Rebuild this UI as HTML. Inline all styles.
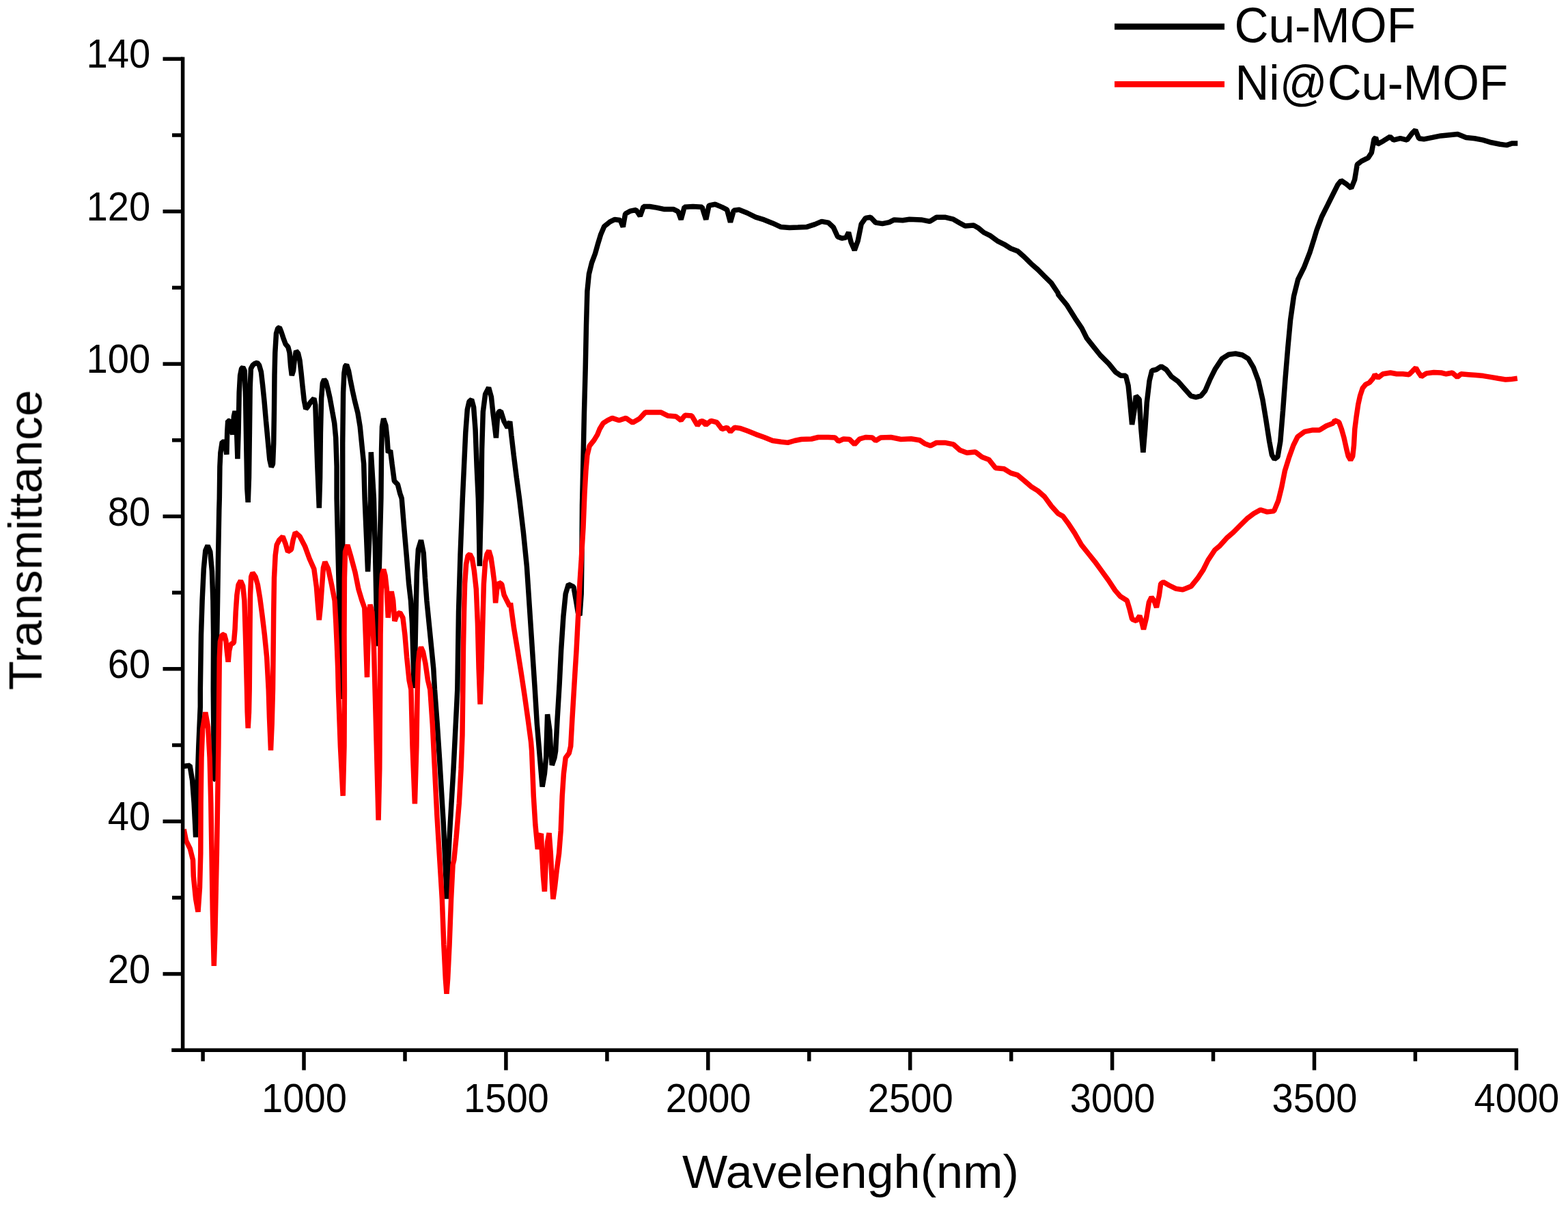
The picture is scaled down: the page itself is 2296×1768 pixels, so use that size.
<!DOCTYPE html>
<html lang="en"><head><meta charset="utf-8"><title>FTIR spectra</title>
<style>
html,body{margin:0;padding:0;background:#fff;}
body{width:2296px;height:1768px;overflow:hidden;}
svg{display:block;}
text{font-family:"Liberation Sans",Arial,Helvetica,sans-serif;fill:#000;}
.tick{font-size:57px;}
.title{font-size:69px;}
.leg{font-size:69px;}
</style></head><body>
<svg width="2296" height="1768" viewBox="0 0 2296 1768">
<rect width="2296" height="1768" fill="#fff"/>
<g style="filter:blur(0.5px)">

<g fill="none" stroke-linejoin="bevel" stroke-linecap="butt">
<path d="M268.3 1122.5 L278.0 1121.2 L281.6 1143.2 L284.1 1176.5 L285.8 1209.8 L286.6 1226.4 L288.6 1159.8 L290.8 1093.2 L293.3 1035.0 L293.3 1010.0 L294.5 929.8 L296.1 879.8 L298.3 833.2 L300.8 806.6 L304.1 799.1 L307.8 808.2 L310.4 836.5 L311.9 879.8 L312.6 929.8 L312.4 979.7 L312.3 1010.0 L312.9 1076.6 L313.3 1141.5 L314.3 1141.5 L315.8 1076.6 L316.6 1010.0 L317.4 946.4 L318.6 879.8 L319.6 813.2 L320.8 746.6 L321.3 730.0 L321.9 683.1 L322.9 663.1 L325.3 647.3 L329.1 647.3 L331.9 665.6 L332.7 633.1 L333.7 616.5 L336.2 616.5 L340.7 636.4 L342.4 609.8 L344.1 602.3 L345.7 608.1 L346.9 641.4 L347.9 672.2 L349.1 633.1 L350.2 574.9 L351.6 549.9 L353.6 539.9 L355.7 537.9 L358.2 543.2 L359.6 583.2 L360.7 649.8 L361.9 716.4 L363.2 735.8 L364.5 699.7 L365.4 633.1 L366.2 566.5 L367.4 539.9 L369.9 535.2 L373.2 532.4 L376.5 531.2 L379.5 534.9 L382.4 544.9 L384.5 563.2 L386.9 586.5 L389.5 616.5 L392.3 646.4 L394.8 673.1 L397.3 683.9 L399.5 679.7 L400.7 649.8 L401.5 599.8 L402.0 549.9 L402.8 516.6 L404.5 488.3 L406.8 480.8 L409.3 479.6 L411.8 485.8 L414.8 494.9 L418.1 504.1 L421.8 508.3 L424.0 516.6 L425.6 536.6 L427.3 549.9 L429.5 543.2 L431.5 524.9 L433.5 514.1 L436.5 517.4 L439.0 528.2 L441.1 546.6 L443.1 566.5 L445.3 586.5 L447.8 599.0 L450.6 595.7 L454.8 589.0 L459.8 583.5 L461.8 593.2 L463.1 633.1 L464.8 683.1 L467.3 744.2 L468.6 699.7 L469.4 633.1 L470.6 583.2 L472.3 561.5 L474.7 555.7 L477.2 559.0 L479.7 568.2 L483.1 583.2 L486.7 603.2 L489.7 619.8 L491.7 641.4 L493.1 683.1 L493.1 730.0 L495.1 813.2 L497.1 896.5 L499.1 979.7 L500.2 1023.8 L501.1 979.7 L501.4 896.5 L501.7 813.2 L501.7 730.0 L501.7 649.8 L502.6 574.9 L503.9 546.6 L505.5 536.6 L507.5 534.1 L510.5 543.2 L513.0 556.5 L516.4 573.2 L519.7 588.2 L523.9 604.8 L527.2 624.8 L530.0 653.1 L532.7 679.7 L534.1 730.0 L536.6 788.3 L538.6 837.4 L540.8 788.3 L542.5 730.0 L543.3 662.2 L547.4 730.0 L549.6 813.2 L551.3 896.5 L552.4 946.4 L553.6 896.5 L555.8 813.2 L557.9 730.0 L558.6 658.1 L559.5 624.8 L561.6 613.1 L564.9 623.1 L566.9 641.4 L568.3 663.1 L571.6 659.8 L574.1 679.7 L577.4 704.7 L582.4 709.7 L585.8 723.0 L588.2 730.0 L591.6 771.6 L595.2 813.2 L598.6 854.9 L601.5 879.8 L603.5 913.1 L605.0 963.1 L606.4 1008.0 L607.7 963.1 L609.0 896.5 L610.4 838.2 L612.4 804.9 L616.5 791.3 L620.2 809.9 L622.4 846.5 L624.9 879.8 L628.2 913.1 L631.5 946.4 L634.8 979.7 L636.5 1010.0 L640.2 1059.9 L643.5 1109.9 L646.5 1159.8 L649.5 1209.8 L651.8 1259.7 L653.2 1290.0 L654.0 1316.6 L655.7 1276.4 L658.1 1226.4 L661.0 1176.5 L664.0 1126.5 L666.5 1076.6 L669.0 1026.6 L669.8 1010.0 L671.5 896.5 L674.0 813.2 L677.3 730.0 L679.5 683.1 L681.8 633.1 L684.3 599.8 L687.0 588.2 L690.6 585.2 L693.6 596.5 L696.1 629.8 L698.1 683.1 L700.3 730.0 L701.4 779.9 L702.3 829.1 L703.4 779.9 L704.8 730.0 L705.6 658.1 L707.3 603.2 L710.6 577.4 L715.6 567.7 L719.4 581.5 L721.9 604.8 L724.4 624.8 L726.4 641.4 L728.1 616.5 L730.1 603.2 L733.4 602.3 L738.1 617.3 L743.1 626.5 L746.7 617.3 L748.9 638.1 L752.2 666.4 L756.4 699.7 L760.5 730.0 L766.4 779.9 L771.4 829.9 L774.7 879.8 L778.0 929.8 L781.3 979.7 L783.3 1010.0 L786.3 1059.9 L790.5 1109.9 L794.1 1152.4 L797.4 1133.3 L799.6 1110.0 L801.6 1046.4 L804.9 1069.7 L806.6 1100.0 L808.3 1120.8 L811.9 1110.0 L813.6 1100.0 L816.1 1053.1 L819.1 1003.1 L821.6 953.2 L824.9 903.2 L828.2 869.9 L832.4 855.8 L839.9 859.6 L843.2 878.3 L846.5 898.2 L849.0 901.6 L851.2 869.9 L851.9 820.0 L852.5 739.8 L854.0 673.2 L855.4 606.6 L857.2 540.0 L858.5 476.4 L859.9 426.5 L862.4 401.5 L866.5 384.9 L871.5 371.5 L875.7 356.6 L879.8 343.2 L884.8 331.6 L893.2 324.9 L899.8 321.6 L908.1 322.4 L912.3 332.4 L915.6 313.3 L923.1 309.1 L931.4 307.4 L937.3 316.6 L942.3 302.5 L951.4 302.5 L961.4 304.1 L973.1 306.6 L986.4 306.6 L993.0 309.9 L997.2 321.6 L1002.2 303.3 L1014.7 302.5 L1028.0 303.3 L1033.8 321.6 L1038.0 301.6 L1038.6 300.9 L1047.2 299.2 L1057.1 303.4 L1064.5 307.1 L1069.5 325.6 L1074.4 308.3 L1081.8 307.1 L1094.2 312.0 L1106.6 318.2 L1118.9 321.9 L1131.3 326.9 L1143.7 332.6 L1156.1 333.5 L1168.4 333.1 L1180.8 332.6 L1193.2 328.6 L1203.1 324.4 L1212.9 326.1 L1220.4 333.1 L1226.6 346.7 L1232.7 349.1 L1238.9 347.9 L1242.6 340.5 L1246.3 355.3 L1251.3 366.4 L1256.2 352.8 L1261.2 328.1 L1267.4 319.4 L1274.8 318.2 L1282.2 326.1 L1292.1 327.6 L1302.0 325.6 L1309.4 321.9 L1321.8 322.7 L1331.7 321.2 L1349.0 321.9 L1361.4 324.4 L1371.3 318.2 L1383.6 318.2 L1396.0 321.2 L1405.9 326.9 L1413.3 331.1 L1425.7 330.1 L1433.1 334.3 L1440.5 340.5 L1450.4 345.4 L1460.3 352.8 L1470.2 357.8 L1480.1 364.0 L1490.0 367.7 L1499.9 376.3 L1509.8 386.2 L1519.7 394.9 L1529.6 404.8 L1539.5 414.7 L1549.4 429.5 L1549.5 431.4 L1561.8 446.3 L1574.2 466.1 L1584.1 480.9 L1591.5 495.7 L1601.4 508.1 L1611.3 520.5 L1623.7 532.8 L1633.6 545.2 L1641.0 550.2 L1648.4 550.2 L1652.1 565.0 L1654.6 589.7 L1657.6 621.9 L1660.8 602.1 L1663.3 579.8 L1668.2 584.8 L1670.7 626.8 L1673.9 662.7 L1676.9 626.8 L1679.3 589.7 L1683.1 557.6 L1686.8 542.7 L1692.9 541.5 L1700.4 536.6 L1707.8 541.5 L1715.2 551.4 L1725.1 558.8 L1735.0 569.9 L1743.7 579.8 L1751.1 581.8 L1758.5 579.8 L1764.7 572.4 L1772.1 555.1 L1779.5 540.3 L1789.4 525.4 L1799.3 519.2 L1809.2 518.0 L1819.1 520.0 L1827.8 525.4 L1835.2 537.8 L1842.6 557.6 L1848.8 584.8 L1853.7 614.5 L1858.7 646.6 L1862.4 666.4 L1866.1 672.6 L1871.0 668.9 L1874.8 646.6 L1878.5 602.1 L1882.2 552.6 L1885.9 508.1 L1889.6 468.5 L1894.5 433.9 L1900.7 409.2 L1909.4 391.8 L1918.0 369.6 L1924.2 349.8 L1927.9 337.5 L1935.3 317.7 L1944.0 300.4 L1951.4 285.5 L1958.8 270.7 L1963.8 264.5 L1971.2 269.4 L1978.6 275.6 L1983.6 263.3 L1987.3 241.0 L1993.5 236.1 L2003.4 231.1 L2008.3 223.7 L2012.0 203.9 L2014.5 201.4 L2017.0 211.3 L2025.6 206.4 L2035.5 200.2 L2040.5 205.1 L2050.4 202.7 L2060.3 205.1 L2067.7 195.2 L2072.6 190.3 L2077.6 202.7 L2085.0 203.9 L2097.4 201.4 L2109.7 198.9 L2122.1 197.7 L2134.5 196.5 L2146.8 201.4 L2159.2 202.7 L2171.6 205.1 L2183.9 208.8 L2196.3 211.3 L2206.2 212.6 L2213.6 210.1 L2222.3 210.1" stroke="#000" stroke-width="7.5"/>
<path d="M269.2 1214.8 L272.5 1231.4 L278.3 1243.1 L282.5 1259.7 L283.3 1283.3 L286.6 1316.6 L290.0 1335.7 L292.5 1299.9 L293.8 1250.0 L294.1 1176.5 L295.0 1109.9 L296.6 1068.3 L300.8 1043.3 L304.6 1064.9 L307.1 1109.9 L308.8 1176.5 L309.9 1243.1 L311.3 1333.2 L313.3 1414.8 L314.9 1366.5 L316.3 1299.9 L317.4 1250.0 L318.6 1176.5 L319.9 1093.2 L320.8 1010.0 L321.3 963.1 L322.4 939.8 L324.9 930.6 L328.3 928.9 L330.8 938.1 L332.4 954.7 L334.1 969.7 L335.7 953.1 L337.9 943.9 L342.4 941.4 L344.1 921.4 L345.2 896.5 L346.9 871.5 L349.1 856.5 L352.4 850.7 L355.7 858.2 L357.9 879.8 L359.9 946.4 L361.5 1010.0 L362.2 1043.3 L363.2 1066.6 L364.5 1043.3 L365.2 1010.0 L365.9 929.8 L366.5 871.5 L367.7 844.9 L369.9 839.0 L374.0 844.9 L377.4 856.5 L380.7 876.5 L384.0 901.5 L387.4 929.8 L390.7 963.1 L393.2 1010.0 L394.5 1051.6 L396.5 1099.1 L398.2 1059.9 L399.5 1010.0 L400.2 946.4 L400.7 896.5 L401.5 846.5 L403.2 813.2 L405.2 798.3 L409.0 790.8 L414.0 785.8 L418.1 796.6 L421.5 808.2 L426.5 804.9 L429.0 791.6 L432.3 779.9 L439.0 785.8 L446.4 799.9 L453.1 818.2 L459.8 833.2 L463.4 859.8 L465.6 888.1 L467.3 908.1 L469.4 888.1 L471.4 859.8 L473.4 831.5 L475.9 823.2 L480.6 833.2 L485.6 856.5 L490.1 879.8 L491.9 913.1 L493.4 946.4 L494.7 979.7 L495.4 1010.0 L498.4 1093.2 L502.2 1165.7 L504.0 1093.2 L504.4 1010.0 L504.0 929.8 L504.4 846.5 L505.5 808.2 L508.9 798.3 L513.3 813.2 L520.0 838.2 L525.0 863.2 L530.0 879.8 L533.8 890.6 L535.3 929.8 L537.5 992.2 L539.1 929.8 L540.5 896.5 L542.0 885.7 L544.9 896.5 L547.4 946.4 L549.1 1010.0 L551.3 1093.2 L554.1 1201.4 L555.8 1126.5 L556.6 1010.0 L557.1 929.8 L558.3 863.2 L559.6 841.5 L561.6 834.0 L564.1 843.2 L566.3 863.2 L568.3 904.8 L570.8 879.8 L573.2 866.5 L575.7 879.8 L577.9 909.8 L581.6 899.8 L585.7 897.3 L589.9 904.8 L592.9 929.8 L595.7 963.1 L599.1 996.4 L601.9 1010.0 L604.0 1093.2 L607.4 1177.3 L609.9 1093.2 L611.2 1010.0 L612.4 971.4 L614.0 954.7 L616.5 948.1 L619.5 954.7 L622.9 971.4 L626.5 996.4 L629.8 1010.0 L633.2 1059.9 L636.5 1126.5 L639.8 1193.1 L642.8 1243.1 L645.7 1290.0 L647.3 1316.6 L649.8 1383.2 L652.3 1433.1 L654.0 1455.6 L655.7 1433.1 L658.1 1383.2 L660.6 1316.6 L663.1 1266.6 L664.8 1259.7 L668.1 1226.4 L672.3 1176.5 L675.1 1126.5 L677.0 1076.6 L677.8 1010.0 L678.5 946.4 L679.5 896.5 L680.6 854.9 L682.6 826.6 L685.1 814.1 L688.1 811.6 L691.4 818.2 L694.4 836.5 L697.3 863.2 L699.4 913.1 L701.1 979.7 L703.1 1031.6 L705.1 979.7 L706.8 913.1 L708.4 854.9 L710.6 823.2 L713.1 811.6 L715.9 806.6 L718.9 816.6 L721.4 833.2 L723.9 853.2 L725.6 883.2 L727.7 863.2 L730.6 853.2 L734.7 855.7 L738.1 871.5 L742.2 879.8 L746.4 888.1 L747.5 883.3 L752.5 919.9 L758.0 953.2 L763.3 986.5 L768.3 1019.8 L773.0 1053.1 L777.5 1086.4 L778.6 1100.0 L781.3 1166.6 L783.9 1208.2 L786.3 1233.2 L787.3 1244.0 L789.9 1226.5 L792.4 1221.2 L793.6 1249.8 L795.4 1283.1 L797.4 1305.8 L799.1 1266.5 L801.6 1233.2 L804.1 1220.2 L806.3 1249.8 L808.3 1291.4 L809.9 1316.9 L812.4 1299.8 L815.2 1274.8 L818.6 1249.8 L821.2 1216.5 L823.2 1166.6 L825.4 1133.3 L828.2 1110.0 L833.2 1103.3 L835.7 1093.0 L837.9 1053.1 L839.9 1019.8 L841.9 986.5 L844.0 953.2 L845.7 919.9 L847.4 886.6 L849.0 853.3 L851.2 820.0 L854.0 773.1 L856.0 723.1 L857.9 689.8 L859.9 666.5 L863.2 653.2 L869.8 644.9 L874.8 636.6 L878.2 628.2 L883.2 619.9 L889.8 615.7 L896.5 612.4 L906.5 615.7 L916.5 612.4 L926.4 619.1 L936.4 613.2 L944.8 604.1 L956.4 604.1 L968.1 604.1 L978.1 609.1 L989.7 609.9 L997.2 615.7 L1003.0 608.3 L1013.0 609.1 L1021.3 623.2 L1026.3 616.6 L1034.7 619.9 L1027.4 616.3 L1033.6 622.4 L1041.0 616.3 L1049.7 618.7 L1057.1 628.6 L1064.5 626.2 L1069.5 632.3 L1075.7 626.2 L1084.3 627.4 L1094.2 631.1 L1106.6 636.1 L1118.9 640.5 L1131.3 645.5 L1143.7 647.2 L1153.6 648.4 L1163.5 645.5 L1173.4 643.5 L1188.2 643.0 L1198.1 640.5 L1212.9 640.5 L1222.8 641.0 L1227.8 646.4 L1235.2 643.0 L1243.9 643.5 L1251.3 650.9 L1258.7 643.0 L1267.4 640.5 L1277.3 641.0 L1282.2 645.5 L1289.6 641.0 L1304.5 640.5 L1319.3 643.5 L1334.2 642.7 L1346.5 644.7 L1353.9 649.7 L1362.6 652.9 L1371.3 648.4 L1383.6 648.4 L1396.0 650.9 L1405.9 659.6 L1415.8 663.3 L1428.2 662.0 L1438.0 669.4 L1447.9 673.2 L1457.8 685.5 L1470.2 686.8 L1480.1 692.9 L1490.0 695.9 L1499.9 704.1 L1509.8 712.7 L1519.7 718.9 L1529.6 727.6 L1539.5 741.2 L1549.4 752.3 L1556.3 756.1 L1563.7 765.9 L1573.6 780.8 L1583.5 798.1 L1593.4 810.5 L1603.3 822.8 L1613.2 836.4 L1623.1 850.0 L1632.9 864.9 L1640.4 873.5 L1650.3 879.7 L1654.0 892.1 L1657.7 906.9 L1663.9 909.4 L1668.8 902.0 L1671.3 909.4 L1674.5 921.8 L1678.7 904.5 L1682.4 882.2 L1686.1 874.8 L1689.8 879.7 L1693.5 889.6 L1697.3 872.3 L1699.7 855.0 L1703.4 852.5 L1712.1 857.5 L1722.0 862.4 L1731.9 863.7 L1744.3 858.7 L1754.2 846.3 L1761.6 835.2 L1769.0 820.4 L1778.9 805.5 L1786.3 799.3 L1796.2 788.2 L1806.1 779.6 L1816.0 769.7 L1825.9 759.8 L1835.8 752.3 L1845.7 746.7 L1855.6 749.9 L1865.5 748.6 L1871.7 733.8 L1876.6 714.0 L1881.5 689.3 L1887.7 669.5 L1893.9 652.2 L1900.1 639.8 L1910.0 632.4 L1922.4 629.9 L1932.3 629.9 L1942.2 623.7 L1952.0 620.0 L1954.4 615.8 L1960.7 618.5 L1964.4 628.5 L1968.0 641.2 L1971.6 657.5 L1974.3 668.4 L1977.6 673.9 L1980.7 668.4 L1982.5 652.1 L1983.8 628.5 L1986.1 610.4 L1988.8 592.3 L1991.6 579.6 L1995.2 568.7 L1999.7 563.2 L2005.2 560.5 L2010.6 554.2 L2013.3 548.7 L2017.9 553.3 L2025.1 547.8 L2036.0 546.0 L2045.1 547.8 L2054.1 547.8 L2063.2 548.7 L2068.6 543.3 L2073.2 538.8 L2076.8 545.1 L2081.3 551.5 L2088.6 546.9 L2099.5 545.5 L2110.3 546.0 L2117.6 547.8 L2126.7 546.0 L2133.9 552.4 L2139.3 547.8 L2150.2 548.7 L2161.1 549.6 L2172.0 550.6 L2182.9 552.4 L2193.7 554.2 L2204.6 556.0 L2211.9 555.6 L2221.8 554.2" stroke="#f00" stroke-width="7.5"/>
</g>
<g stroke="#000" stroke-width="5.5" fill="none">
<path d="M267.6 83.6 V1540.9"/>
<path d="M251.2 1538.2 H2223.1"/>
<path d="M238.5 1426.6 H267.6"/>
<path d="M252 1314.9 H267.6"/>
<path d="M238.5 1203.2 H267.6"/>
<path d="M252 1091.5 H267.6"/>
<path d="M238.5 979.8 H267.6"/>
<path d="M252 868.1 H267.6"/>
<path d="M238.5 756.4 H267.6"/>
<path d="M252 644.8 H267.6"/>
<path d="M238.5 533.1 H267.6"/>
<path d="M252 421.4 H267.6"/>
<path d="M238.5 309.7 H267.6"/>
<path d="M252 198.0 H267.6"/>
<path d="M238.5 86.3 H267.6"/>
<path d="M297.1 1538.2 V1554.5"/>
<path d="M445.0 1538.2 V1567.6"/>
<path d="M593.0 1538.2 V1554.5"/>
<path d="M740.9 1538.2 V1567.6"/>
<path d="M888.9 1538.2 V1554.5"/>
<path d="M1036.8 1538.2 V1567.6"/>
<path d="M1184.8 1538.2 V1554.5"/>
<path d="M1332.7 1538.2 V1567.6"/>
<path d="M1480.7 1538.2 V1554.5"/>
<path d="M1628.6 1538.2 V1567.6"/>
<path d="M1776.5 1538.2 V1554.5"/>
<path d="M1924.5 1538.2 V1567.6"/>
<path d="M2072.4 1538.2 V1554.5"/>
<path d="M2220.4 1538.2 V1567.6"/>
</g>
<g class="tick">
<text transform="translate(220.3 1439.7) scale(0.985 1.03)" text-anchor="end">20</text>
<text transform="translate(220.3 1216.3) scale(0.985 1.03)" text-anchor="end">40</text>
<text transform="translate(220.3 992.9) scale(0.985 1.03)" text-anchor="end">60</text>
<text transform="translate(220.3 769.5) scale(0.985 1.03)" text-anchor="end">80</text>
<text transform="translate(220.3 546.2) scale(0.985 1.03)" text-anchor="end">100</text>
<text transform="translate(220.3 322.8) scale(0.985 1.03)" text-anchor="end">120</text>
<text transform="translate(220.3 99.4) scale(0.985 1.03)" text-anchor="end">140</text>
<text transform="translate(445.5 1628.6) scale(0.985 1.03)" text-anchor="middle">1000</text>
<text transform="translate(741.4 1628.6) scale(0.985 1.03)" text-anchor="middle">1500</text>
<text transform="translate(1037.3 1628.6) scale(0.985 1.03)" text-anchor="middle">2000</text>
<text transform="translate(1333.2 1628.6) scale(0.985 1.03)" text-anchor="middle">2500</text>
<text transform="translate(1629.1 1628.6) scale(0.985 1.03)" text-anchor="middle">3000</text>
<text transform="translate(1925.0 1628.6) scale(0.985 1.03)" text-anchor="middle">3500</text>
<text transform="translate(2220.9 1628.6) scale(0.985 1.03)" text-anchor="middle">4000</text>
</g>
<text class="title" transform="translate(1245.5 1739.6) scale(1.0175 1)" text-anchor="middle">Wavelengh(nm)</text>
<text class="title" transform="translate(60.8 791) rotate(-90) scale(1.012 1)" text-anchor="middle">Transmittance</text>
<path d="M1632 39 H1793" stroke="#000" stroke-width="8.8" fill="none"/>
<path d="M1632 123.3 H1793" stroke="#f00" stroke-width="8.8" fill="none"/>
<text class="leg" transform="translate(1807.5 61.6) scale(1.004 1.05)">Cu-MOF</text>
<text class="leg" transform="translate(1808.5 146.3) scale(1 1.05)">Ni@Cu-MOF</text>
</g>
</svg>
</body></html>
